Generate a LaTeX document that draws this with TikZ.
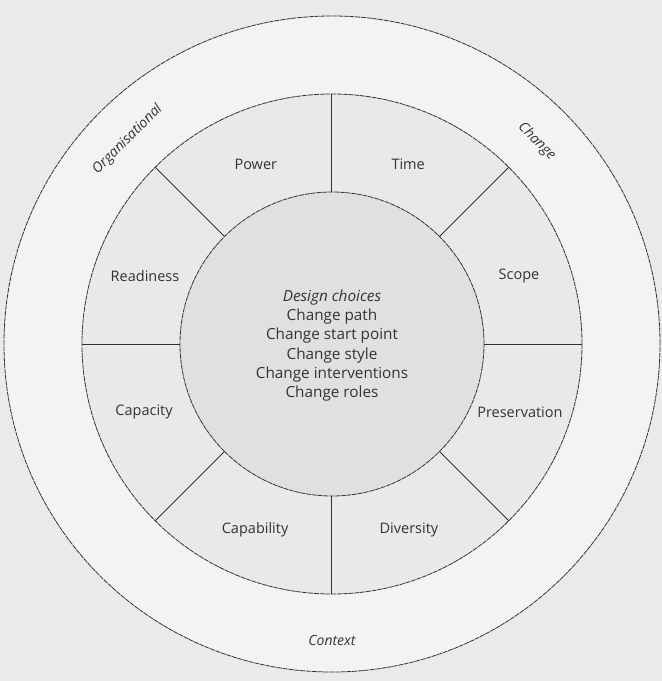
\documentclass[tikz,border=0pt]{standalone}
\usepackage{fontspec}
\setmainfont{Open Sans}
\usepackage{xcolor}
\definecolor{chgbg}{HTML}{EAEAE8}
\definecolor{chgfill}{HTML}{E0E0DE}
\definecolor{chgink}{HTML}{333333}
\usetikzlibrary{positioning}
\tikzset{
  chgcircle/.style={draw=chgink,line width=0.8pt,dash pattern=on 5pt off 0.8pt},
  chgdiv/.style={draw=chgink,line width=1pt},
  chglabel/.style={font=\fontsize{14.5}{16}\selectfont,text=chgink,inner sep=1pt},
  chgouter/.style={font=\itshape\fontsize{14}{16}\selectfont,text=chgink,inner sep=1pt},
  chgcore/.style={font=\fontsize{15.3}{19.3}\selectfont,text=chgink,align=center},
}

\begin{document}
\begin{tikzpicture}[x=1pt,y=1pt]

\fill[chgbg] (-332,-337) rectangle (330,344);
\useasboundingbox (-332,-337) rectangle (330,344);

% rings
\draw[chgcircle,fill=chgfill!40] (0,0) circle (328);
\draw[chgcircle,fill=chgfill!70] (0,0) circle (250);
\draw[chgcircle,fill=chgfill] (0,0) circle (152);
\foreach \a in {0,45,...,315}
  \draw[chgdiv] (\a:152) -- (\a:250);

% outer ring
\node[chgouter,rotate=45] (org) at (135:289) {Organisational};
\node[chgouter,rotate=-45] (chg) at (44.7:288) {Change};
\node[chgouter] (ctx) at (0,-296) {Context};

% middle ring
\node[chglabel] (power) at (113:195) {Power};
\node[chglabel] (time) at (67:195) {Time};
\node[chglabel] (scope) at (20:199) {Scope};
\node[chglabel] (pres) at (340:200) {Preservation};
\node[chglabel] (div) at (292.5:201) {Diversity};
\node[chglabel] (capab) at (247.5:201) {Capability};
\node[chglabel] (capac) at (200:200) {Capacity};
\node[chglabel] (ready) at (160:199) {Readiness};

% core
\node[chgcore] (core) at (0,-1.5) {\textit{Design choices}\\Change path\\Change start point\\Change style\\Change interventions\\Change roles};

\end{tikzpicture}
\end{document}
